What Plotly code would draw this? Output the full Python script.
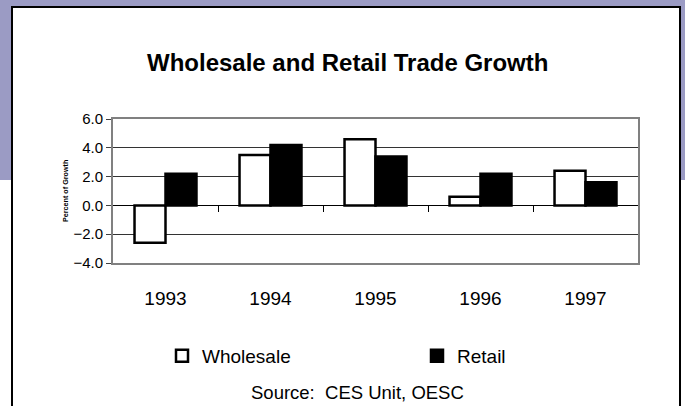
import plotly.graph_objects as go

# ---- data ----
years = ["1993", "1994", "1995", "1996", "1997"]
wholesale = [-2.6, 3.5, 4.6, 0.6, 2.4]
retail = [2.2, 4.2, 3.4, 2.2, 1.6]
y_ticks = [-4, -2, 0, 2, 4, 6]

W, H = 685, 406
L, R, T, B = 113, 638, 119, 263  # plot area in px


def px_x(px):
    return (px - L) / (R - L)


def px_y(py):
    return (B - py) / (B - T)


FONT = "Liberation Sans, Arial, sans-serif"

fig = go.Figure()
fig.add_trace(go.Bar(
    name="Wholesale", x=years, y=wholesale, legend="legend",
    marker=dict(color="white", line=dict(color="black", width=2.5)),
))
fig.add_trace(go.Bar(
    name="Retail", x=years, y=retail, legend="legend2",
    marker=dict(color="black", line=dict(color="black", width=2.5)),
))
# invisible trace to carry the zero axis with category-boundary ticks
fig.add_trace(go.Scatter(x=[None], y=[None], xaxis="x2", yaxis="y",
                         showlegend=False, hoverinfo="skip"))

shapes = [
    # purple band behind
    dict(type="rect", xref="paper", yref="paper",
         x0=px_x(-5), x1=px_x(W + 5), y0=px_y(180), y1=px_y(-5),
         fillcolor="rgb(155,155,196)", line=dict(width=0), layer="below"),
    # white chart box with black border
    dict(type="rect", xref="paper", yref="paper",
         x0=px_x(12), x1=px_x(680), y0=px_y(412), y1=px_y(7),
         fillcolor="white", line=dict(color="black", width=2), layer="below"),
]

annotations = [
    dict(text="<b>Wholesale and Retail Trade Growth</b>", xref="paper", yref="paper",
         x=px_x(347), y=px_y(62), xanchor="center", yanchor="middle", showarrow=False,
         font=dict(family=FONT, size=24, color="black")),
    dict(text="<b>Percent of Growth</b>", xref="paper", yref="paper",
         x=px_x(65), y=px_y(191), xanchor="center", yanchor="middle", showarrow=False,
         textangle=-90, font=dict(family=FONT, size=7.2, color="black")),
    dict(text="Source:&nbsp; CES Unit, OESC", xref="paper", yref="paper",
         x=px_x(357), y=px_y(392), xanchor="center", yanchor="middle", showarrow=False,
         font=dict(family=FONT, size=18.5, color="black")),
]

legend_common = dict(orientation="h", xref="container", yref="container",
                     xanchor="left", yanchor="top",
                     font=dict(family=FONT, size=19, color="black"),
                     bgcolor="rgba(0,0,0,0)")

fig.update_layout(
    width=W, height=H,
    margin=dict(l=L, r=W - R, t=T, b=H - B, pad=0, autoexpand=False),
    paper_bgcolor="white",
    plot_bgcolor="#C0C0C0",
    barmode="group", bargap=0.41, bargroupgap=0,
    font=dict(family=FONT, color="black"),
    showlegend=True,
    legend=dict(x=162 / W, y=1 - 337 / H, **legend_common),
    legend2=dict(x=417 / W, y=1 - 337 / H, **legend_common),
    xaxis=dict(type="category", showgrid=False, zeroline=False,
               showline=True, linecolor="#808080", linewidth=2, mirror=True,
               ticks="", ticklabelstandoff=17,
               tickfont=dict(family=FONT, size=19, color="black")),
    xaxis2=dict(overlaying="x", anchor="free", position=0.4, side="bottom",
                range=[-0.5, 4.5], showgrid=False, zeroline=False,
                showline=True, linecolor="black", linewidth=1,
                tickmode="array", tickvals=[0.5, 1.5, 2.5, 3.5],
                ticks="outside", ticklen=6, tickcolor="black", tickwidth=1,
                showticklabels=False),
    yaxis=dict(range=[-4, 6], tickvals=y_ticks, tickformat=".1f",
               showgrid=True, gridcolor="#333333", gridwidth=1,
               zeroline=False, showline=True, linecolor="#808080", linewidth=2,
               mirror=True, ticks="outside", ticklen=5, tickcolor="#404040",
               tickfont=dict(family=FONT, size=15, color="black")),
    shapes=shapes,
    annotations=annotations,
)

fig.write_html("out.html", config={"displayModeBar": False},
               post_script="document.body.style.margin='0';document.body.style.overflow='hidden';")
